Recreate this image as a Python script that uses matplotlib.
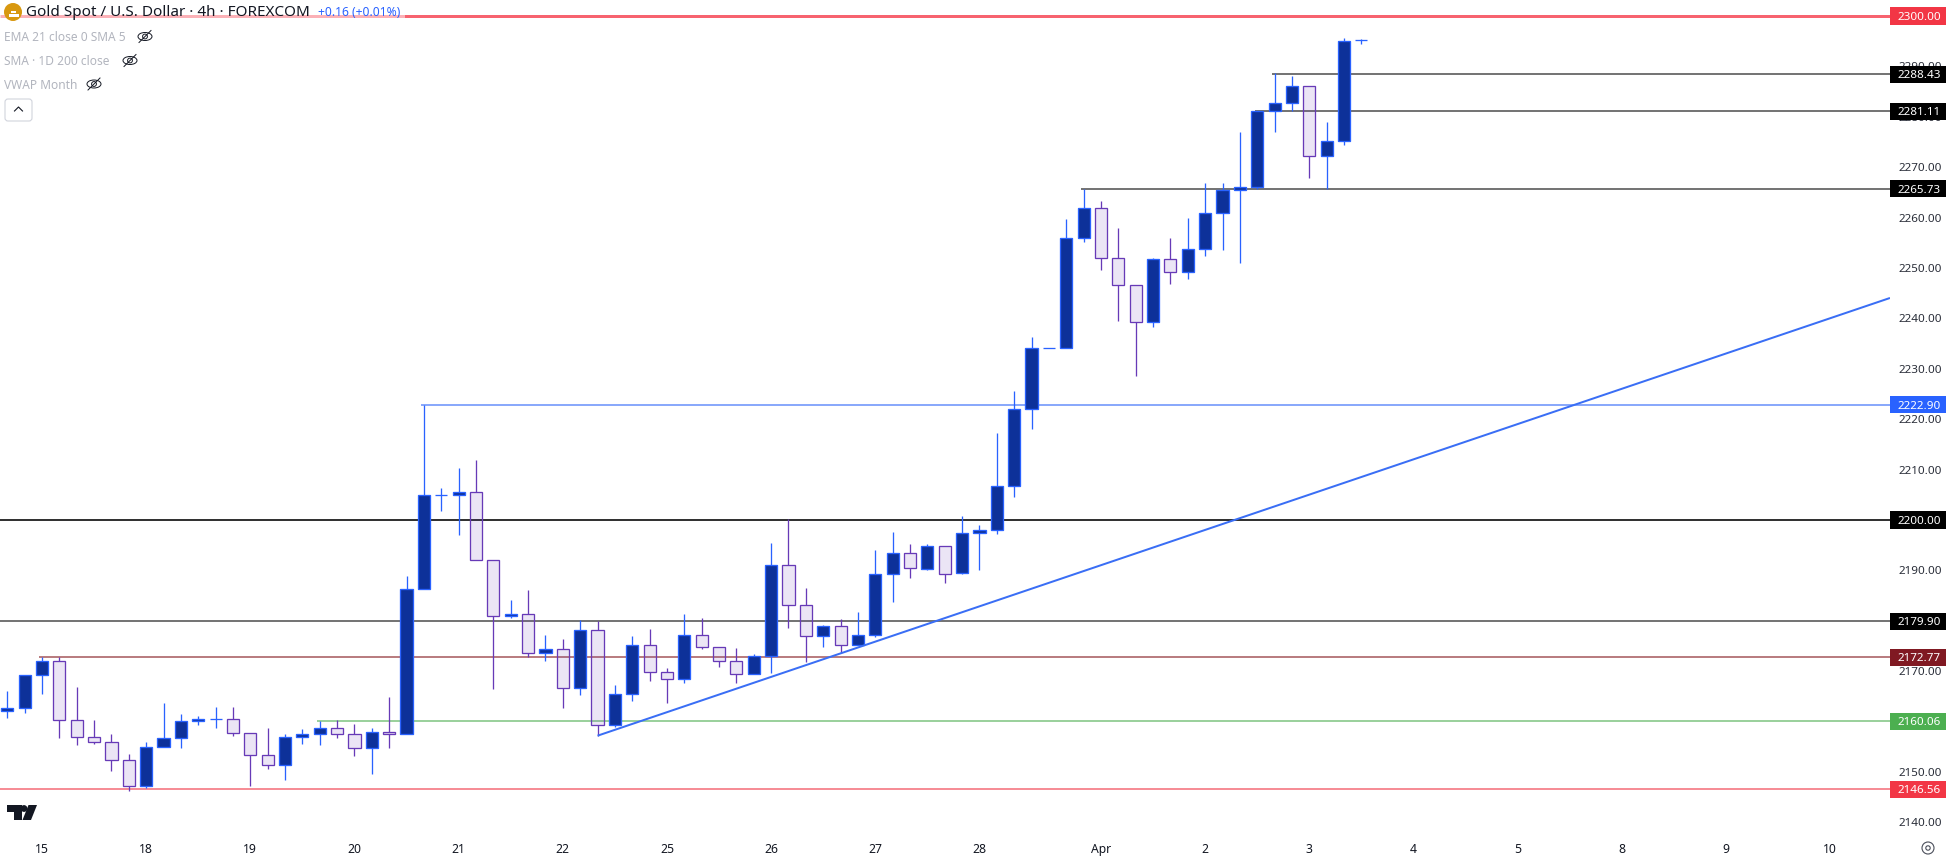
import matplotlib
matplotlib.use("Agg")
import matplotlib.pyplot as plt
from matplotlib.patches import Rectangle, Circle, Ellipse, Polygon, FancyBboxPatch
from matplotlib.lines import Line2D
from matplotlib.transforms import Affine2D

opens = [2162.04, 2162.63, 2169.18, 2171.96, 2160.25, 2156.88, 2155.89, 2152.31, 2147.16, 2154.89,
         2156.68, 2160.05, 2160.45, 2160.45, 2157.67, 2153.31, 2151.32, 2156.88, 2157.47, 2158.66,
         2157.47, 2154.69, 2157.87, 2157.47, 2186.25, 2204.90, 2204.90, 2205.49, 2192.00, 2180.89,
         2181.29, 2173.55, 2174.34, 2166.60, 2178.11, 2159.26, 2165.41, 2175.14, 2169.78, 2168.39,
         2177.12, 2174.74, 2171.96, 2169.38, 2172.95, 2191.01, 2183.07, 2176.92, 2178.91, 2175.14,
         2177.12, 2189.22, 2193.39, 2190.28, 2194.77, 2189.50, 2197.35, 2197.95, 2206.68, 2221.96,
         2234.06, 2234.06, 2255.89, 2261.84, 2251.92, 2246.56, 2239.22, 2251.72, 2249.14, 2253.70,
         2260.85, 2265.41, 2266.01, 2281.09, 2282.68, 2286.05, 2272.16, 2275.14, 2295.18]
closes = [2162.63, 2169.18, 2171.96, 2160.25, 2156.88, 2155.89, 2152.31, 2147.16, 2154.89, 2156.68,
          2160.05, 2160.45, 2160.45, 2157.67, 2153.31, 2151.32, 2156.88, 2157.47, 2158.66, 2157.47,
          2154.69, 2157.87, 2157.47, 2186.25, 2204.90, 2204.90, 2205.49, 2192.00, 2180.89, 2181.29,
          2173.55, 2174.34, 2166.60, 2178.11, 2159.26, 2165.41, 2175.14, 2169.78, 2168.39, 2177.12,
          2174.74, 2171.96, 2169.38, 2172.95, 2191.01, 2183.07, 2176.92, 2178.91, 2175.14, 2177.12,
          2189.22, 2193.39, 2190.41, 2194.77, 2189.29, 2197.35, 2197.95, 2206.68, 2221.96, 2234.06,
          2234.06, 2255.89, 2261.84, 2251.92, 2246.56, 2239.22, 2251.72, 2249.14, 2253.70, 2260.85,
          2265.41, 2266.01, 2281.09, 2282.68, 2286.05, 2272.16, 2275.14, 2294.98, 2295.18]
highs = [2166.07, 2169.18, 2172.75, 2172.75, 2166.86, 2160.32, 2157.54, 2153.57, 2155.89, 2163.69,
         2161.51, 2161.11, 2162.90, 2162.90, 2157.67, 2158.73, 2157.54, 2158.53, 2160.12, 2160.32,
         2159.52, 2158.73, 2164.88, 2188.89, 2222.90, 2206.35, 2210.32, 2211.90, 2192.00, 2184.13,
         2186.11, 2177.19, 2176.39, 2180.16, 2179.90, 2167.26, 2176.99, 2178.38, 2170.64, 2181.35,
         2180.49, 2174.74, 2174.61, 2173.42, 2195.44, 2200.14, 2186.51, 2179.10, 2180.29, 2181.75,
         2194.05, 2197.62, 2195.24, 2195.23, 2194.77, 2200.79, 2199.01, 2217.26, 2225.59, 2236.31,
         2234.06, 2259.72, 2265.67, 2263.29, 2257.94, 2246.56, 2251.98, 2255.95, 2259.92, 2266.86,
         2266.86, 2276.99, 2281.09, 2288.63, 2288.10, 2286.05, 2278.97, 2295.57, 2295.37]
lows = [2160.78, 2161.77, 2165.48, 2156.81, 2155.42, 2155.62, 2150.26, 2146.30, 2146.89, 2154.89,
        2154.83, 2159.39, 2158.80, 2157.21, 2147.29, 2150.66, 2148.48, 2155.62, 2155.42, 2156.81,
        2153.24, 2149.67, 2154.83, 2157.47, 2186.25, 2201.86, 2197.08, 2192.00, 2166.54, 2180.49,
        2172.89, 2172.09, 2162.77, 2165.35, 2157.21, 2159.00, 2164.16, 2168.12, 2163.76, 2167.73,
        2174.47, 2170.90, 2167.73, 2169.38, 2169.71, 2178.64, 2171.89, 2174.87, 2173.68, 2175.14,
        2176.72, 2183.80, 2188.56, 2190.00, 2187.50, 2189.29, 2190.00, 2197.29, 2204.63, 2218.12,
        2234.06, 2234.06, 2255.22, 2249.67, 2239.55, 2228.64, 2238.36, 2246.89, 2247.88, 2252.45,
        2253.64, 2251.06, 2265.68, 2277.05, 2281.22, 2267.93, 2265.68, 2274.41, 2294.38]

x_ticks = [2, 8, 14, 20, 26, 32, 38, 44, 50, 56, 63, 69, 75, 81, 87, 93, 99, 105]
x_labels = ["15", "18", "19", "20", "21", "22", "25", "26", "27", "28", "Apr",
            "2", "3", "4", "5", "8", "9", "10"]
y_ticks = [2140, 2150, 2160, 2170, 2180, 2190, 2200, 2210, 2220, 2230,
           2240, 2250, 2260, 2270, 2280, 2290]

# price level, first bar index of the line, line colour, line px, label colour
levels = [
    (2300.00, None, "#f7636f", 3, "#f23645"),
    (2288.43, 73, "#757575", 2, "#000000"),
    (2281.11, 72, "#757575", 2, "#000000"),
    (2265.73, 62, "#757575", 2, "#000000"),
    (2222.90, 24, "#8aa9fb", 2, "#2962ff"),
    (2200.00, None, "#333333", 2, "#000000"),
    (2179.90, None, "#757575", 2, "#000000"),
    (2172.77, 2, "#b97d80", 2, "#801922"),
    (2160.06, 18, "#9bd19d", 2, "#4caf50"),
    (2146.56, None, "#f68d96", 2, "#f23645"),
]
trend_x = [34, 108.45]
trend_y = [2157.2, 2244.05]

FONT = "Noto Sans"
PX = 0.72
UP_FILL, UP_EDGE = "#0d3199", "#2962ff"
DN_FILL, DN_EDGE = (103/255, 58/255, 183/255, 0.13), "#673ab7"

fig = plt.figure(figsize=(19.48, 8.60), dpi=100, facecolor="white")
ax = fig.add_axes([0, 30/860, 1890/1948, 830/860])
ax.set_xlim(-0.42, 108.45)
ax.set_ylim(2138.49, 2303.17)
for s in ax.spines.values():
    s.set_visible(False)
ax.set_facecolor("white")

for price, start, col, w, _ in levels:
    x0 = -0.42 if start is None else start - 0.15
    ax.plot([x0, 108.45], [price, price], color=col, lw=w*PX, zorder=1.5,
            solid_capstyle="butt")

for i, (o, h, l, c) in enumerate(zip(opens, highs, lows, closes)):
    up = c >= o
    edge = UP_EDGE if up else DN_EDGE
    # wicks stop at the body, which is translucent on down bars
    ax.plot([i, i], [max(o, c), h], color=edge, lw=1.3*PX, zorder=2, solid_capstyle="butt")
    ax.plot([i, i], [l, min(o, c)], color=edge, lw=1.3*PX, zorder=2, solid_capstyle="butt")
    ax.add_patch(Rectangle((i-0.35, min(o, c)), 0.70, abs(c-o),
                           facecolor=UP_FILL if up else DN_FILL,
                           edgecolor=edge, lw=1.3*PX, zorder=2.1))

ax.plot(trend_x, trend_y, color="#3a6ef5", lw=2*PX, zorder=2.3, solid_capstyle="butt")

ax.set_xticks(x_ticks)
ax.set_xticklabels(x_labels, fontfamily=FONT, fontsize=8.8, color="#131722")
ax.set_yticks(y_ticks)
ax.set_yticklabels([f"{v:.2f}" for v in y_ticks], fontfamily=FONT, fontsize=8.4, color="#2a2e39")
ax.yaxis.tick_right()
ax.tick_params(axis="x", length=0, pad=9.5)
ax.tick_params(axis="y", length=0, pad=6)

# price label boxes
yt = ax.get_yaxis_transform()
for price, _, _, _, box in levels:
    ax.add_patch(Rectangle((1.0, price-1.7), 56/1890, 3.4, transform=yt, facecolor=box,
                           edgecolor="none", clip_on=False, zorder=5))
    ax.text(1.0 + 8/1890, price, f"{price:.2f}", transform=yt, ha="left", va="center_baseline",
            color="white", fontsize=8.4, fontweight="semibold", fontfamily=FONT, zorder=6,
            clip_on=False)

# header, in figure pixels from the top-left corner
T = Affine2D().scale(1, -1).translate(0, 860)
def add(a):
    a.set_transform(T)
    fig.add_artist(a)

add(Rectangle((0, 3), 405, 19, facecolor="white", alpha=0.5, edgecolor="none"))
add(Circle((13, 12), 9, facecolor="#d8980f", edgecolor="none"))
for px, py in [(8.5, 14), (14, 14), (11, 10.5)]:
    add(Rectangle((px, py), 5, 2.5, facecolor="white", edgecolor="none"))

def text(x, y, s, color, size, **kw):
    return fig.text(x/1948, 1-y/860, s, color=color, fontsize=size, fontfamily=FONT,
                    ha="left", va="center", **kw)

text(26.5, 12.5, "Gold Spot / U.S. Dollar · 4h · FOREXCOM", "#131722", 11.0)
text(318, 12.5, "+0.16 (+0.01%)", "#2962ff", 8.7)
text(4, 37.5, "EMA 21 close 0 SMA 5", "#b2b5be", 8.6)
text(4, 61.5, "SMA · 1D 200 close", "#b2b5be", 8.6)
text(4, 85.5, "VWAP Month", "#b2b5be", 8.6)

for cx, cy in [(145, 36.5), (130, 60.5), (94, 84)]:
    add(Ellipse((cx, cy), 14, 8, facecolor="none", edgecolor="#131722", lw=0.7))
    add(Circle((cx, cy), 2.4, facecolor="none", edgecolor="#131722", lw=0.7))
    add(Line2D([cx-6, cx+6], [cy+6, cy-6], color="#131722", lw=0.7))

add(FancyBboxPatch((5, 99), 27, 22, boxstyle="round,pad=0,rounding_size=3",
                   facecolor="white", edgecolor="#d1d4dc", lw=0.8))
add(Line2D([14.5, 18.5, 22.5], [111, 107, 111], color="#131722", lw=0.8))

# TradingView mark
add(Polygon([(7, 805), (22, 805), (22, 820), (14, 820), (14, 812), (7, 812)],
            facecolor="#131722", edgecolor="none"))
add(Circle((24, 808.5), 3.4, facecolor="#131722", edgecolor="none"))
add(Polygon([(28.5, 805), (37, 805), (31, 820), (22.5, 820)],
            facecolor="#131722", edgecolor="none"))

# scale settings icon
add(Circle((1928, 848), 6, facecolor="none", edgecolor="#4a4e5a", lw=0.8))
add(Circle((1928, 848), 2.2, facecolor="none", edgecolor="#4a4e5a", lw=0.8))

fig.savefig("out.png", dpi=100, facecolor="white")
